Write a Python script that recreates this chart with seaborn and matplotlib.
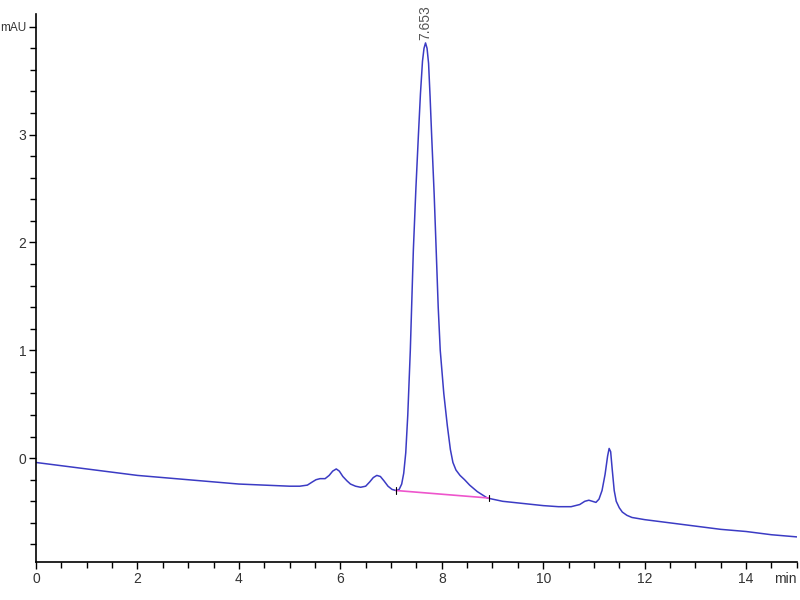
import numpy as np
import pandas as pd
import seaborn as sns
import matplotlib.pyplot as plt
from matplotlib.ticker import MultipleLocator

# retention time (min) and signal (mAU)
time_min = [
    0.0, 0.5, 1.0, 1.5, 2.0, 2.5, 3.0, 3.5, 4.0, 4.5, 5.0, 5.2, 5.35,
    5.45, 5.52, 5.6, 5.7, 5.78, 5.85, 5.92, 5.98, 6.05, 6.13, 6.2, 6.3,
    6.4, 6.5, 6.58, 6.65, 6.72, 6.79, 6.86, 6.94, 7.02, 7.1, 7.16, 7.21,
    7.25, 7.29, 7.33, 7.38, 7.44, 7.49, 7.54, 7.58, 7.62, 7.65, 7.68,
    7.71, 7.74, 7.77, 7.80, 7.85, 7.89, 7.93, 7.97, 8.04, 8.11, 8.17,
    8.22, 8.28, 8.36, 8.45, 8.55, 8.7, 8.9, 9.2, 9.6, 10.0, 10.3, 10.55,
    10.72, 10.82, 10.9, 10.97, 11.04, 11.1, 11.16, 11.22, 11.27, 11.3,
    11.33, 11.36, 11.4, 11.44, 11.5, 11.56, 11.65, 11.75, 12.0, 12.5,
    13.0, 13.5, 14.0, 14.5, 15.0,
]
signal_mau = [
    -0.04, -0.07, -0.10, -0.13, -0.16, -0.18, -0.20, -0.22, -0.24, -0.25,
    -0.26, -0.26, -0.25, -0.22, -0.20, -0.19, -0.19, -0.16, -0.12, -0.10,
    -0.12, -0.17, -0.21, -0.24, -0.26, -0.27, -0.26, -0.22, -0.18, -0.16,
    -0.17, -0.21, -0.26, -0.29, -0.30, -0.29, -0.24, -0.14, 0.05, 0.40,
    1.00, 1.93, 2.50, 3.00, 3.38, 3.68, 3.80, 3.85, 3.80, 3.66, 3.35,
    3.00, 2.45, 1.93, 1.40, 1.00, 0.60, 0.30, 0.08, -0.04, -0.11, -0.16,
    -0.20, -0.25, -0.31, -0.37, -0.40, -0.42, -0.44, -0.45, -0.45, -0.43,
    -0.40, -0.39, -0.40, -0.41, -0.38, -0.30, -0.15, 0.02, 0.09, 0.06,
    -0.10, -0.30, -0.40, -0.46, -0.50, -0.53, -0.55, -0.57, -0.60, -0.63,
    -0.66, -0.68, -0.71, -0.73,
]

# integration baseline under the main peak
base_time = [7.10, 8.94]
base_signal = [-0.30, -0.37]

peak_rt = 7.68
peak_label = "7.653"

trace = pd.DataFrame({"time": time_min, "signal": signal_mau})
base = pd.DataFrame({"time": base_time, "signal": base_signal})

sns.set_style("ticks")
plt.rcParams["font.family"] = ["Liberation Sans Narrow", "Liberation Sans", "DejaVu Sans"]

fig = plt.figure(figsize=(8, 6), dpi=100)
ax = fig.add_axes([0.045, 0.0633, 0.951, 0.9137])

sns.lineplot(data=trace, x="time", y="signal", sort=False, estimator=None,
             color="#3b3bc4", linewidth=1.1, ax=ax)
sns.lineplot(data=base, x="time", y="signal", sort=False, estimator=None,
             color="#ee55cc", linewidth=1.2, ax=ax)
for t, s in zip(base_time, base_signal):
    ax.plot([t, t], [s - 0.03, s + 0.03], color="black", linewidth=0.8)

ax.text(peak_rt, 3.88, peak_label, rotation=90, ha="center", va="bottom",
        fontsize=10, color="#555555")

ax.set_xlim(0, 15)
ax.set_ylim(-0.963, 4.12)
ax.xaxis.set_major_locator(MultipleLocator(2))
ax.xaxis.set_minor_locator(MultipleLocator(0.5))
ax.yaxis.set_minor_locator(MultipleLocator(0.2))
ax.set_yticks([0, 1, 2, 3, 4])
ax.set_yticklabels(["0", "1", "2", "3", "mAU"])
ax.tick_params(which="both", direction="out", color="black", width=1,
               labelsize=10, labelcolor="#333333")
ax.tick_params(which="major", length=5, pad=2)
ax.tick_params(which="minor", length=4)
ax.get_yticklabels()[-1].set_fontsize(8.5)
ax.text(15, -0.963 - 0.09, "min", ha="right", va="top", fontsize=10,
        color="#333333")
ax.set_xlabel("")
ax.set_ylabel("")
sns.despine(ax=ax)
for sp in ["left", "bottom"]:
    ax.spines[sp].set_linewidth(1.2)
    ax.spines[sp].set_color("black")

fig.savefig("out.png", dpi=100)
